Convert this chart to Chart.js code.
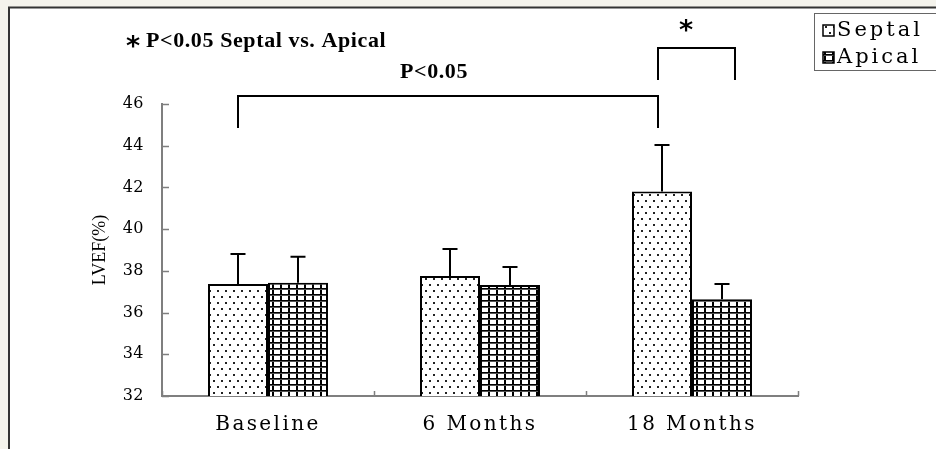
<!DOCTYPE html>
<html>
<head>
<meta charset="utf-8">
<title>LVEF Septal vs Apical</title>
<script src="https://cdn.jsdelivr.net/npm/chart.js@4.4.1/dist/chart.umd.min.js"></script>
<style>
  html, body { margin: 0; padding: 0; background: #f4f3ec; }
  #wrap { width: 936px; height: 449px; position: relative; }
</style>
</head>
<body>
<div id="wrap"><canvas id="lvef"></canvas></div>
<script>
/* ——— data ——— */
const CATEGORIES = ['Baseline', '6 Months', '18 Months'];
const SEPTAL     = [37.37, 37.75, 41.80];
const SEPTAL_SD  = [1.44, 1.30, 2.23];
const APICAL     = [37.43, 37.32, 36.64];
const APICAL_SD  = [1.25, 0.87, 0.73];
const Y_TICKS    = [32, 34, 36, 38, 40, 42, 44, 46];
const NOTE       = 'P<0.05 Septal vs. Apical';
const TREND      = 'P<0.05';
const STAR       = '*';

/* ——— fill patterns ——— */
const pattern = (w, h, paint) => {
    const c = document.createElement('canvas');
    c.width = w; c.height = h;
    const g = c.getContext('2d');
    g.fillStyle = '#fff'; g.fillRect(0, 0, w, h);
    g.fillStyle = '#000'; paint(g);
    return document.createElement('canvas').getContext('2d').createPattern(c, 'repeat');
};
const DOTS = pattern(8, 12, g => {
    g.fillStyle = '#222';
    g.fillRect(1, 2, 2, 2); g.fillRect(5, 8, 2, 2);
});
const GRID = pattern(8, 6, g => {
    g.fillRect(0, 0, 2, 6);
    g.fillRect(0, 0, 8, 1);
    g.fillStyle = '#555'; g.fillRect(0, 1, 8, 1);
});

/* ——— letter spacing for the wide SimSun-like labels ——— */
const SERIF = '"DejaVu Serif"';
const spacing = {
    id: 'spacing',
    beforeDraw(chart) {
        [['x', '2.4px'], ['y', '0.5px']].forEach(([id, sp]) => {
            const s = chart.scales[id];
            if (!s || s._spaced) return;
            const orig = s.drawLabels.bind(s);
            s.drawLabels = area => {
                s.ctx.save(); s.ctx.letterSpacing = sp; orig(area); s.ctx.restore();
            };
            s._spaced = true;
        });
    }
};

/* ——— background, error bars, ticks, brackets, notes, legend ——— */
const decor = {
    id: 'decor',
    beforeDraw(chart) {
        const {ctx, width, height} = chart;
        ctx.save();
        ctx.fillStyle = '#f4f3ec'; ctx.fillRect(0, 0, width, height);
        ctx.fillStyle = '#fff';    ctx.fillRect(9, 8, width, height);
        ctx.strokeStyle = '#333'; ctx.lineWidth = 2;
        ctx.beginPath();
        ctx.moveTo(9, height); ctx.lineTo(9, 7.5); ctx.lineTo(width, 7.5);
        ctx.stroke();
        ctx.restore();
    },
    afterDatasetsDraw(chart) {
        const {ctx, scales: {y}} = chart;
        ctx.save();
        ctx.strokeStyle = '#000'; ctx.lineWidth = 2;
        [SEPTAL_SD, APICAL_SD].forEach((sd, i) => {
            const vals = chart.data.datasets[i].data;
            chart.getDatasetMeta(i).data.forEach((bar, j) => {
                const yt = y.getPixelForValue(vals[j] + sd[j]);
                ctx.beginPath();
                ctx.moveTo(bar.x, bar.y); ctx.lineTo(bar.x, yt);
                ctx.moveTo(bar.x - 7.5, yt); ctx.lineTo(bar.x + 7.5, yt);
                ctx.stroke();
            });
        });
        ctx.restore();
    },
    afterDraw(chart) {
        const {ctx, chartArea: a, scales: {x, y}} = chart;
        ctx.save();

        /* inward tick marks */
        ctx.strokeStyle = '#7f7f7f'; ctx.lineWidth = 1.5;
        ctx.beginPath();
        Y_TICKS.forEach(v => {
            const py = Math.round(y.getPixelForValue(v)) + 0.5;
            ctx.moveTo(a.left, py); ctx.lineTo(a.left + 7, py);
        });
        for (let i = 0; i <= CATEGORIES.length; i++) {
            const px = Math.round(x.getPixelForValue(i - 0.5)) + 0.5;
            ctx.moveTo(px, a.bottom); ctx.lineTo(px, a.bottom - 5);
        }
        ctx.stroke();

        /* brackets */
        const s = chart.getDatasetMeta(0).data, p = chart.getDatasetMeta(1).data;
        const bL = s[0].x, bR = s[2].x - 4, sR = p[2].x + 13;
        ctx.strokeStyle = '#000'; ctx.lineWidth = 2;
        ctx.beginPath();
        ctx.moveTo(bL, y.getPixelForValue(44.85));
        ctx.lineTo(bL, y.getPixelForValue(46.38));
        ctx.lineTo(bR, y.getPixelForValue(46.38));
        ctx.lineTo(bR, y.getPixelForValue(44.85));
        ctx.moveTo(bR, y.getPixelForValue(47.15));
        ctx.lineTo(bR, y.getPixelForValue(48.68));
        ctx.lineTo(sR, y.getPixelForValue(48.68));
        ctx.lineTo(sR, y.getPixelForValue(47.15));
        ctx.stroke();

        /* notes */
        ctx.fillStyle = '#000';
        ctx.textBaseline = 'alphabetic'; ctx.textAlign = 'center';
        ctx.font = 'bold 27px "DejaVu Sans"';
        ctx.fillText(STAR, 133, 55);
        ctx.fillText(STAR, 686, 39);
        ctx.textAlign = 'left';
        ctx.font = 'bold 22px "Liberation Serif"';
        ctx.letterSpacing = '0.6px';
        ctx.fillText(NOTE, 146, 47);
        ctx.fillText(TREND, 400, 78);
        ctx.letterSpacing = '0px';

        /* legend */
        ctx.strokeStyle = '#666'; ctx.lineWidth = 1;
        ctx.strokeRect(814.5, 13.5, 200, 57);
        chart.data.datasets.forEach((ds, i) => {
            const cy = 31 + i * 27;
            ctx.fillStyle = ds.backgroundColor;
            ctx.fillRect(823, cy - 6, 11, 11);
            ctx.strokeStyle = '#000'; ctx.lineWidth = 1.5;
            ctx.strokeRect(823, cy - 6, 11, 11);
            ctx.fillStyle = '#000';
            ctx.font = '21px ' + SERIF;
            ctx.letterSpacing = '3px';
            ctx.textBaseline = 'middle';
            ctx.fillText(ds.label, 837, cy);
            ctx.letterSpacing = '0px';
        });
        ctx.restore();
    }
};

/* ——— chart ——— */
Chart.defaults.color = '#000';
new Chart(document.getElementById('lvef'), {
    type: 'bar',
    data: {
        labels: CATEGORIES,
        datasets: [
            {label: 'Septal', data: SEPTAL, backgroundColor: DOTS,
             borderColor: '#000', borderWidth: 2, borderSkipped: false},
            {label: 'Apical', data: APICAL, backgroundColor: GRID,
             borderColor: '#000', borderWidth: 2, borderSkipped: false}
        ]
    },
    options: {
        responsive: true,
        maintainAspectRatio: false,
        animation: false,
        layout: {padding: {left: 89, top: 104, right: 138, bottom: 0}},
        categoryPercentage: 0.566,
        barPercentage: 1.0,
        plugins: {legend: {display: false}, tooltip: {enabled: false}},
        scales: {
            x: {
                grid: {display: false, drawTicks: false},
                border: {color: '#7f7f7f', width: 2},
                ticks: {font: {family: 'DejaVu Serif', size: 20}, padding: 17},
                afterFit: s => { s.height = 53; }
            },
            y: {
                min: 32, max: 46,
                grid: {display: false, drawTicks: false},
                border: {color: '#7f7f7f', width: 2},
                afterBuildTicks: s => { s.ticks = Y_TICKS.map(v => ({value: v})); },
                ticks: {font: {family: 'DejaVu Serif', size: 16}, padding: 18},
                title: {display: true, text: 'LVEF(%)', padding: {top: 0, bottom: 0},
                        font: {family: 'Liberation Serif', size: 18}},
                afterFit: s => { s.width = 73; }
            }
        }
    },
    plugins: [spacing, decor]
});
</script>
</body>
</html>
